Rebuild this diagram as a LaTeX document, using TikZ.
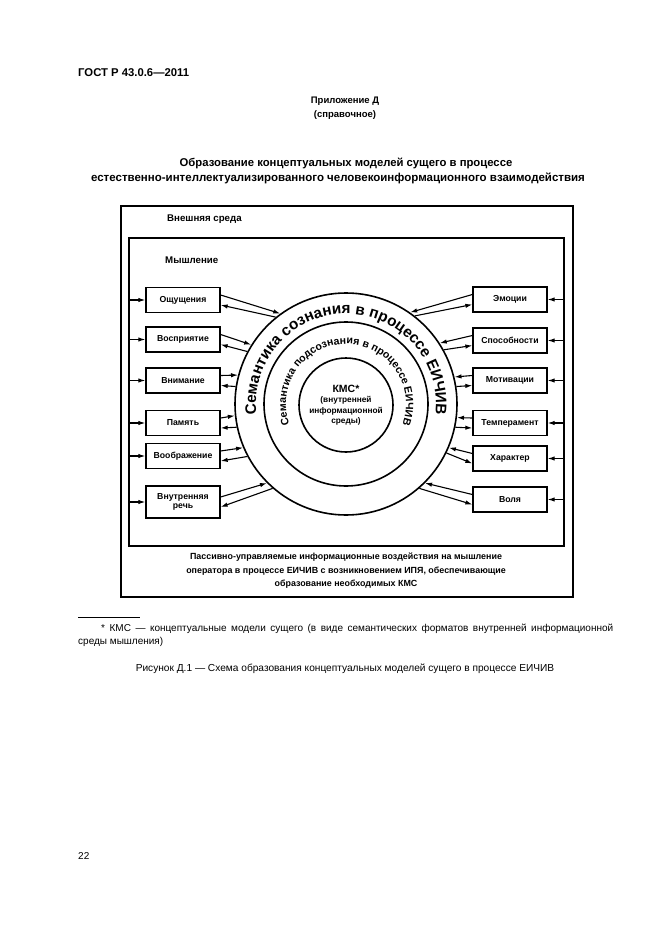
\documentclass[tikz,border=0pt]{standalone}
\usepackage{fontspec}
\setmainfont{Liberation Sans}
\usetikzlibrary{arrows.meta,decorations.text}
\font\ringA="Liberation Sans/B" at 15.3pt
\font\ringB="Liberation Sans/B" at 10.6pt
\begin{document}
\begin{tikzpicture}[x=1pt,y=1pt,
  txt/.style={inner sep=0pt, anchor=base},
  box/.style={draw, line width=1.3pt, minimum width=74pt, minimum height=25pt, inner sep=1pt,
    font=\bfseries\fontsize{8.7}{9.7}\selectfont, align=center},
  conn/.style={line width=1.1pt, -{Latex[length=7pt,width=4.4pt]}},
  framebox/.style={draw, line width=1.6pt, inner sep=0pt, anchor=north west},
  ring/.style={circle, draw, line width=1.6pt, inner sep=0pt},
]
\useasboundingbox (0,0) rectangle (661,-936);

% header
\node[txt, anchor=base west, font=\bfseries\fontsize{11.3}{13}\selectfont] (hdr) at (78,-77) {ГОСТ Р 43.0.6—2011};
\node[txt, font=\bfseries\fontsize{9.5}{11}\selectfont] (app) at (345,-104) {Приложение Д};
\node[txt, font=\bfseries\fontsize{9.5}{11}\selectfont] (ref) at (345,-118) {(справочное)};
\node[txt, font=\bfseries\fontsize{11.3}{13}\selectfont] (t1) at (346,-167) {Образование концептуальных моделей сущего в процессе};
\node[txt, font=\bfseries\fontsize{11.5}{13}\selectfont] (t2) at (338,-182) {естественно-интеллектуализированного человекоинформационного взаимодействия};

% frames
\node[framebox, minimum width=452pt, minimum height=391pt] (env) at (120,-205) {};
\node[framebox, minimum width=435pt, minimum height=308pt] (think) at (128,-237) {};
\node[txt, anchor=base west, font=\bfseries\fontsize{9.7}{11}\selectfont] (envl) at (167,-221) {Внешняя среда};
\node[txt, anchor=base west, font=\bfseries\fontsize{9.7}{11}\selectfont] (thinkl) at (165,-263) {Мышление};

% left boxes
\node[box] (l1) at (183,-300) {Ощущения};
\node[box] (l2) at (183,-339.5) {Восприятие};
\node[box] (l3) at (183,-380.5) {Внимание};
\node[box] (l4) at (183,-423) {Память};
\node[box] (l5) at (183,-456) {Воображение};
\node[box, minimum height=32pt] (l6) at (183,-502) {Внутренняя\\речь};

% right boxes
\node[box] (r1) at (510,-299.5) {Эмоции};
\node[box] (r2) at (510,-340.5) {Способности};
\node[box] (r3) at (510,-380.5) {Мотивации};
\node[box] (r4) at (510,-423) {Темперамент};
\node[box] (r5) at (510,-458.5) {Характер};
\node[box] (r6) at (510,-499.5) {Воля};

% circles
\node[ring, minimum size=222pt] (outer) at (346,-404) {};
\node[ring, minimum size=164pt] (mid) at (346,-404) {};
\node[ring, minimum size=94pt, align=center, font=\bfseries\fontsize{8.3}{10.5}\selectfont] (core) at (346,-405)
  {{\fontsize{10.5}{12}\selectfont КМС*}\\(внутренней\\информационной\\среды)};

\path[decorate, decoration={text along path, text align=center,
  text={|\ringA|Семантика сознания в процессе ЕИЧИВ}}]
  (outer.center) ++(200:90pt) arc[start angle=200, end angle=-20, radius=90pt];
\path[decorate, decoration={text along path, text align=center,
  text={|\ringB|Семантика подсознания в процессе ЕИЧИВ}}]
  (outer.center) ++(214:60pt) arc[start angle=214, end angle=-34, radius=60pt];

% frame -> boxes
\foreach \b in {l1,l2,l3,l4,l5,l6}{
  \draw[conn] (think.west |- \b.west) -- (\b.west);
}
\foreach \b in {r1,r2,r3,r4,r5,r6}{
  \draw[conn] (think.east |- \b.east) -- (\b.east);
}

% boxes <-> circle (left)
\draw[conn] ([yshift=5pt]l1.east) -- (outer.126);
\draw[conn] (outer.129) -- ([yshift=-5pt]l1.east);
\draw[conn] ([yshift=5pt]l2.east) -- (outer.148);
\draw[conn] (outer.152) -- ([yshift=-5pt]l2.east);
\draw[conn] ([yshift=5pt]l3.east) -- (outer.165);
\draw[conn] (outer.171) -- ([yshift=-5pt]l3.east);
\draw[conn] ([yshift=5pt]l4.east) -- (outer.186);
\draw[conn] (outer.192) -- ([yshift=-5pt]l4.east);
\draw[conn] ([yshift=5pt]l5.east) -- (outer.203);
\draw[conn] (outer.208) -- ([yshift=-5pt]l5.east);
\draw[conn] ([yshift=5pt]l6.east) -- (outer.225);
\draw[conn] (outer.229) -- ([yshift=-5pt]l6.east);

% boxes <-> circle (right)
\draw[conn] ([yshift=5pt]r1.west) -- (outer.55);
\draw[conn] (outer.52) -- ([yshift=-5pt]r1.west);
\draw[conn] ([yshift=5pt]r2.west) -- (outer.33);
\draw[conn] (outer.29) -- ([yshift=-5pt]r2.west);
\draw[conn] ([yshift=5pt]r3.west) -- (outer.14);
\draw[conn] (outer.9) -- ([yshift=-5pt]r3.west);
\draw[conn] ([yshift=5pt]r4.west) -- (outer.353);
\draw[conn] (outer.348) -- ([yshift=-5pt]r4.west);
\draw[conn] ([yshift=5pt]r5.west) -- (outer.337);
\draw[conn] (outer.334) -- ([yshift=-5pt]r5.west);
\draw[conn] ([yshift=5pt]r6.west) -- (outer.315);
\draw[conn] (outer.311) -- ([yshift=-5pt]r6.west);

% bottom text
\node[inner sep=0pt, align=center, font=\bfseries\fontsize{8.9}{13.5}\selectfont] (note) at (346,-571)
  {Пассивно-управляемые информационные воздействия на мышление\\
   оператора в процессе ЕИЧИВ с возникновением ИПЯ, обеспечивающие\\
   образование необходимых КМС};

% footnote
\draw[line width=0.6pt] (78,-617) -- (140,-617);
\node[inner sep=0pt, anchor=north west, text width=535pt, align=justify, font=\fontsize{10}{13}\selectfont] (fn) at (78,-624)
  {\hspace*{23pt}* КМС — концептуальные модели сущего (в виде семантических форматов внутренней информационной\linebreak среды мышления)};

\node[txt, font=\fontsize{10.15}{12}\selectfont] (cap) at (345,-671) {Рисунок Д.1 — Схема образования концептуальных моделей сущего в процессе ЕИЧИВ};
\node[txt, anchor=base west, font=\fontsize{10}{12}\selectfont] (pg) at (78,-859) {22};
\end{tikzpicture}
\end{document}
